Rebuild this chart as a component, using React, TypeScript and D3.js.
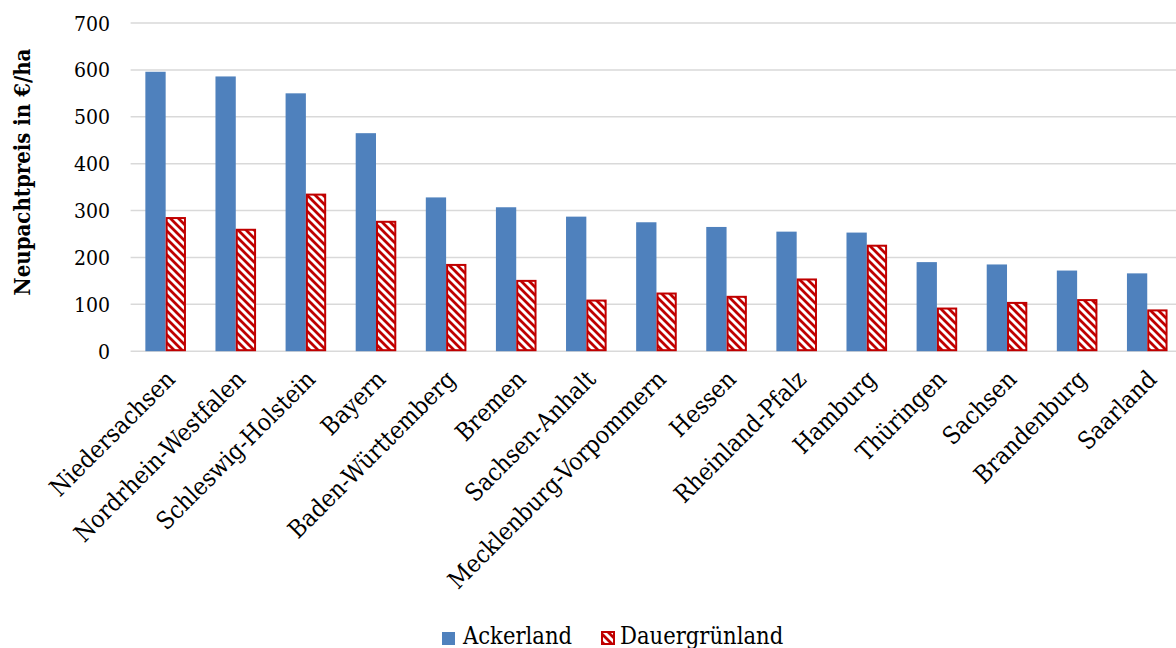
import React from "react";
import * as d3 from "d3";

// Neupachtpreise nach Bundesland (€/ha)
const states = [
  "Niedersachsen",
  "Nordrhein-Westfalen",
  "Schleswig-Holstein",
  "Bayern",
  "Baden-Württemberg",
  "Bremen",
  "Sachsen-Anhalt",
  "Mecklenburg-Vorpommern",
  "Hessen",
  "Rheinland-Pfalz",
  "Hamburg",
  "Thüringen",
  "Sachsen",
  "Brandenburg",
  "Saarland",
];
const ackerland = [596, 586, 550, 465, 328, 307, 287, 275, 265, 255, 253, 190, 185, 172, 166];
const dauergruenland = [284, 259, 334, 276, 184, 150, 108, 123, 116, 153, 225, 91, 103, 109, 87];
const seriesNames = ["Ackerland", "Dauergrünland"];
const yTicks = [0, 100, 200, 300, 400, 500, 600, 700];

const W = 1176;
const H = 648;
const plotLeft = 130.6;
const plotRight = 1182.3;
const plotTop = 23;
const plotBottom = 351.2;
const barWidth = 20.3;

const BLUE = "#4F81BD";
const RED = "#C00000";
const FONT = "DejaVu Serif Condensed, DejaVu Serif, serif";
const txt = { fontFamily: FONT, fontStretch: "condensed" } as React.CSSProperties;

export default function App() {
  const x = d3.scaleBand<string>().domain(states).range([plotLeft, plotRight]).padding(0);
  const step = x.step();
  const xs = d3
    .scaleBand<string>()
    .domain(seriesNames)
    .range([step / 2 - barWidth, step / 2 + barWidth]);
  const y = d3.scaleLinear().domain([0, 700]).range([plotBottom, plotTop]);

  const rows = states.map((s, i) => ({ s, a: ackerland[i], d: dauergruenland[i] }));

  return (
    <svg
      width={W}
      height={H}
      style={{ position: "absolute", left: 0, top: 0, display: "block", background: "#fff" }}
    >
      <defs>
        <pattern id="hatch" width={8} height={8} patternUnits="userSpaceOnUse">
          <rect width={8} height={8} fill="#fff" />
          <path
            d="M-4,4 L4,12 M0,0 L8,8 M4,-4 L12,4"
            stroke={RED}
            strokeWidth={2.8}
          />
        </pattern>
      </defs>

      {/* gridlines */}
      {yTicks.map((t) => (
        <line
          key={t}
          x1={plotLeft}
          x2={W}
          y1={y(t)}
          y2={y(t)}
          stroke="#D9D9D9"
          strokeWidth={1.5}
        />
      ))}

      {/* y tick labels */}
      {yTicks.map((t) => (
        <text
          key={t}
          x={110}
          y={y(t)}
          dy="0.36em"
          textAnchor="end"
          fontSize={21}
          fill="#000"
          style={txt}
        >
          {t}
        </text>
      ))}

      {/* y axis title */}
      <text
        transform="translate(30, 172) rotate(-90)"
        textAnchor="middle"
        fontSize={22}
        fontWeight="bold"
        fill="#000"
        style={txt}
      >
        Neupachtpreis in €/ha
      </text>

      {/* bars */}
      {rows.map((r) => {
        const x0 = x(r.s) as number;
        return (
          <g key={r.s}>
            <rect
              x={x0 + (xs("Ackerland") as number)}
              y={y(r.a)}
              width={xs.bandwidth()}
              height={y(0) - y(r.a)}
              fill={BLUE}
            />
            <rect
              x={x0 + (xs("Dauergrünland") as number) + 1}
              y={y(r.d)}
              width={xs.bandwidth() - 2}
              height={y(0) - y(r.d) - 1}
              fill="url(#hatch)"
              stroke={RED}
              strokeWidth={2}
            />
          </g>
        );
      })}

      {/* category labels */}
      {states.map((s) => {
        const cx = (x(s) as number) + step / 2;
        return (
          <text
            key={s}
            transform={`translate(${cx - 2}, 368) rotate(-45)`}
            textAnchor="end"
            dy="0.75em"
            fontSize={24.3}
            fill="#000"
            style={txt}
          >
            {s}
          </text>
        );
      })}

      {/* legend */}
      <g>
        <rect x={442} y={632} width={13} height={13} fill={BLUE} />
        <text x={463} y={644} fontSize={23.5} fill="#000" style={txt}>
          Ackerland
        </text>
        <rect x={602} y={632} width={12} height={12} fill="url(#hatch)" stroke={RED} strokeWidth={2} />
        <text x={620} y={644} fontSize={23.5} fill="#000" style={txt}>
          Dauergrünland
        </text>
      </g>
    </svg>
  );
}
